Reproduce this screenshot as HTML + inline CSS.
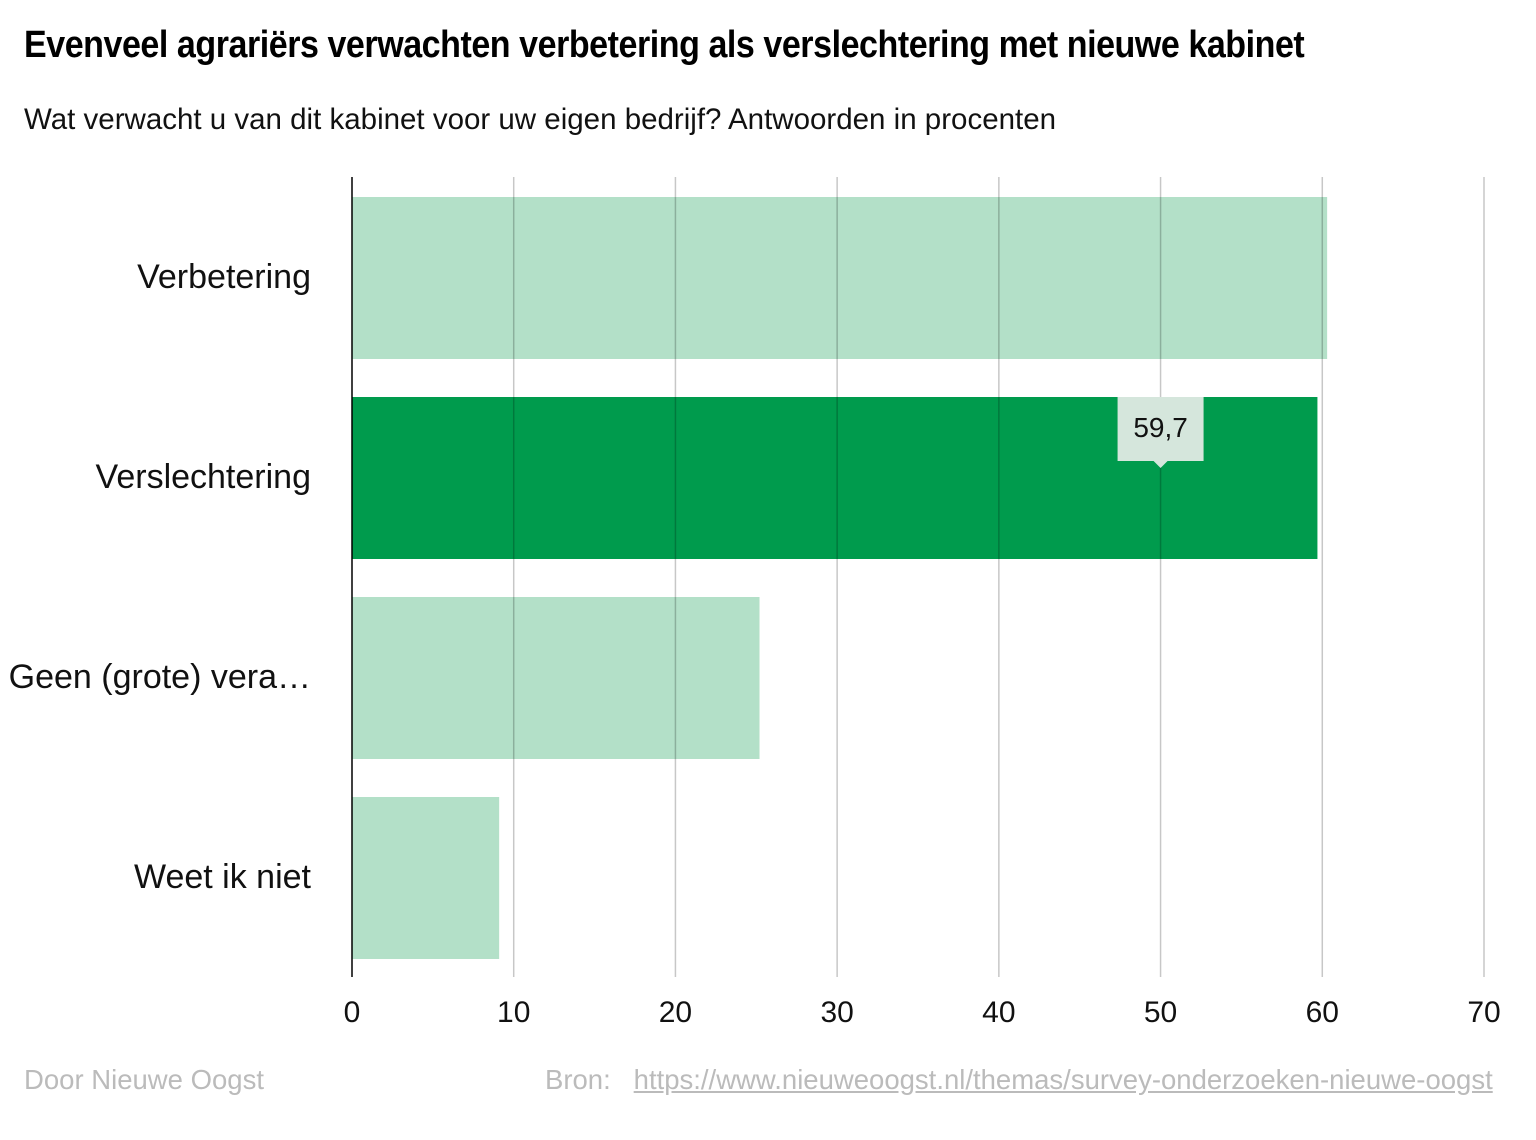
<!DOCTYPE html>
<html><head><meta charset="utf-8"><style>
body{margin:0;background:#fff;font-family:"Liberation Sans",sans-serif;}
#wrap{position:relative;width:1536px;height:1140px;overflow:hidden;}
#title{position:absolute;left:24px;top:24px;font-family:"Liberation Sans Narrow","Liberation Sans",sans-serif;font-weight:bold;font-size:38px;color:#000;letter-spacing:-0.5px;transform:scaleX(0.895);transform-origin:left;white-space:nowrap;}
#sub{position:absolute;left:24px;top:103px;font-size:29.5px;color:#111;white-space:nowrap;}
.foot{position:absolute;top:1064px;font-size:27.5px;color:#bbb;white-space:nowrap;}
</style></head><body>
<div id="wrap">
<div id="title">Evenveel agrariërs verwachten verbetering als verslechtering met nieuwe kabinet</div>
<div id="sub">Wat verwacht u van dit kabinet voor uw eigen bedrijf? Antwoorden in procenten</div>
<svg id="chart" width="1536" height="1140" style="position:absolute;left:0;top:0"></svg>
<div class="foot" style="left:24px">Door Nieuwe Oogst</div>
<div class="foot" style="left:545px">Bron:&nbsp;&nbsp;&nbsp;<span style="text-decoration:underline">https://www.nieuweoogst.nl/themas/survey-onderzoeken-nieuwe-oogst</span></div>
</div>
<script>
const categories=["Verbetering","Verslechtering","Geen (grote) vera…","Weet ik niet"];
const values=[60.3,59.7,25.2,9.1];
const ticks=[0,10,20,30,40,50,60,70];
const highlight=1;
const highlightLabel="59,7";
const NS="http://www.w3.org/2000/svg";
const svg=document.getElementById('chart');
const x0=352,x1=1484,yTop=177,yBot=977,xmax=70;
const xs=v=>x0+(v/xmax)*(x1-x0);
const band=(yBot-yTop)/categories.length;
function mk(t,a){const e=document.createElementNS(NS,t);for(const k in a)e.setAttribute(k,a[k]);svg.appendChild(e);return e;}
categories.forEach((c,i)=>{
 const y=yTop+i*band+20;
 const r=mk('rect',{x:x0,y:y,width:xs(values[i])-x0,height:band-38,fill:i===highlight?'#009b4d':'#b3e0c8'});
 
 
 const t=mk('text',{x:311,y:yTop+i*band+111,'text-anchor':'end','font-size':34,fill:'#111'});t.textContent=c;
 
 
});
ticks.forEach(t=>{
 if(t>0){const g=mk('line',{x1:xs(t),x2:xs(t),y1:yTop,y2:yBot,stroke:'rgba(0,0,0,0.22)','stroke-width':1.5});
 
 }
 const l=mk('text',{x:xs(t),y:1022,'text-anchor':'middle','font-size':30,fill:'#111'});l.textContent=t;
 
 
});
const ax=mk('line',{x1:x0,x2:x0,y1:yTop,y2:yBot,stroke:'#000','stroke-width':1.5});


const ty=yTop+highlight*band+20, tx=xs(50);
const tb=mk('path',{d:`M${tx-43},${ty} h86 v64 h-36 l-7,7 l-7,-7 h-36 z`,fill:'#d5e6dc'});


const tt=mk('text',{x:tx,y:ty+40,'text-anchor':'middle','font-size':28,fill:'#111'});tt.textContent=highlightLabel;


</script>
</body></html>
